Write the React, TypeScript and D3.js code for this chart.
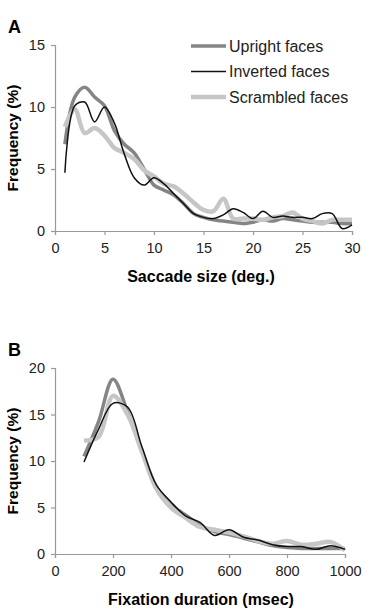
import { useEffect, useRef } from 'react';
import * as d3 from 'd3';

// panel A: saccade size distribution (deg.)
const saccadeSizes = d3.range(1, 31);
const saccadeUpright = [7.0, 10.8, 11.6, 10.8, 10.1, 8.1, 7.0, 6.3, 5.0, 3.7, 3.3, 2.9, 2.2, 1.4, 1.1, 0.9, 0.8, 0.7, 0.6, 0.7, 0.9, 0.8, 1.0, 0.9, 0.8, 0.7, 0.7, 0.7, 0.6, 0.6];
const saccadeInverted = [4.7, 10.1, 10.4, 8.8, 10.0, 8.7, 6.2, 4.3, 3.7, 4.3, 3.8, 3.0, 2.2, 1.4, 1.1, 1.0, 1.3, 1.8, 1.5, 1.0, 1.6, 1.1, 1.2, 1.1, 1.1, 1.0, 1.4, 1.4, 0.2, 0.5];
const saccadeScrambled = [8.4, 9.8, 7.9, 8.3, 7.7, 6.7, 6.3, 5.8, 4.9, 4.4, 3.8, 3.6, 3.0, 2.3, 1.7, 1.6, 2.6, 1.0, 1.0, 1.0, 0.9, 1.1, 1.2, 1.5, 1.0, 0.8, 0.6, 0.9, 0.9, 0.9];

// panel B: fixation duration distribution (msec)
const durations = d3.range(100, 1001, 50);
const durationUpright = [10.5, 14.2, 18.8, 15.3, 11.0, 7.2, 5.3, 4.2, 3.1, 2.4, 2.1, 1.7, 1.3, 0.9, 0.7, 0.6, 0.6, 0.6, 0.6];
const durationInverted = [9.9, 13.4, 16.2, 15.8, 11.5, 7.4, 5.6, 4.1, 3.4, 2.0, 2.6, 1.8, 1.5, 1.0, 0.8, 0.8, 0.5, 0.9, 0.5];
const durationScrambled = [12.2, 12.6, 17.0, 15.0, 11.0, 7.0, 5.0, 3.9, 2.9, 2.6, 2.3, 1.9, 1.4, 1.1, 1.4, 1.0, 1.1, 1.3, 0.4];

const legendLabels = ['Upright faces', 'Inverted faces', 'Scrambled faces'];
const saccadeXTicks = [0, 5, 10, 15, 20, 25, 30];
const saccadeYTicks = [0, 5, 10, 15];
const durationXTicks = [0, 200, 400, 600, 800, 1000];
const durationYTicks = [0, 5, 10, 15, 20];

const FONT = '"Liberation Sans", Arial, sans-serif';
const AXIS = '#999';

// drawing order: upright, scrambled, inverted on top
const STYLES = {
  upright: { stroke: '#858585', width: 3.5 },
  inverted: { stroke: '#111', width: 1.5 },
  scrambled: { stroke: '#c6c6c6', width: 4.5 },
};

type PanelProps = {
  letter: string;
  top: number;
  height: number;
  right: number;
  xs: number[];
  upright: number[];
  inverted: number[];
  scrambled: number[];
  xDomain: [number, number];
  yDomain: [number, number];
  xTicks: number[];
  yTicks: number[];
  xTitle: string;
  legend: boolean;
};

const Panel = (p: PanelProps) => {
  const axesRef = useRef<SVGGElement>(null);
  const left = 55;
  const xScale = d3.scaleLinear().domain(p.xDomain).range([left, p.right]);
  const yScale = d3.scaleLinear().domain(p.yDomain).range([p.top + p.height, p.top]);

  useEffect(() => {
    const g = d3.select(axesRef.current);
    g.selectAll('*').remove();
    const xAxis = g
      .append('g')
      .attr('transform', `translate(0,${p.top + p.height})`)
      .call(
        d3.axisBottom(xScale).tickValues(p.xTicks).tickFormat(d3.format('d')).tickSize(4).tickPadding(8)
      );
    const yAxis = g
      .append('g')
      .attr('transform', `translate(${left},0)`)
      .call(d3.axisLeft(yScale).tickValues(p.yTicks).tickFormat(d3.format('d')).tickSize(4).tickPadding(6));
    [xAxis, yAxis].forEach((a) => {
      a.attr('font-family', FONT).attr('font-size', 14.5);
      a.selectAll('path').attr('stroke', AXIS).attr('stroke-width', 1.2);
      a.selectAll('line').attr('stroke', AXIS).attr('stroke-width', 1.2);
      a.selectAll('text').attr('fill', '#222');
    });
  }, [p]);

  const line = (vals: number[]) =>
    d3
      .line<number>()
      .x((_, i) => xScale(p.xs[i]))
      .y((d) => yScale(d))
      .curve(d3.curveCatmullRom)(vals) || '';

  const midY = p.top + p.height / 2;

  return (
    <g>
      <text x={8} y={p.top - 12} fontFamily={FONT} fontWeight="bold" fontSize={18}>
        {p.letter}
      </text>
      <path d={line(p.upright)} fill="none" stroke={STYLES.upright.stroke} strokeWidth={STYLES.upright.width} />
      <path d={line(p.scrambled)} fill="none" stroke={STYLES.scrambled.stroke} strokeWidth={STYLES.scrambled.width} />
      <path d={line(p.inverted)} fill="none" stroke={STYLES.inverted.stroke} strokeWidth={STYLES.inverted.width} />
      <g ref={axesRef} />
      <text
        transform={`translate(18,${midY}) rotate(-90)`}
        textAnchor="middle"
        fontFamily={FONT}
        fontWeight="bold"
        fontSize={15.5}
      >
        Frequency (%)
      </text>
      <text x={201} y={p.top + p.height + 51} textAnchor="middle" fontFamily={FONT} fontWeight="bold" fontSize={16}>
        {p.xTitle}
      </text>
      {p.legend &&
        legendLabels.map((label, i) => {
          const s = [STYLES.upright, STYLES.inverted, STYLES.scrambled][i];
          const y = 46 + i * 25.5;
          return (
            <g key={label}>
              <line x1={191} x2={226} y1={y} y2={y} stroke={s.stroke} strokeWidth={s.width} />
              <text x={229} y={y + 5.5} fontFamily={FONT} fontSize={16} fill="#222">
                {label}
              </text>
            </g>
          );
        })}
    </g>
  );
};

export default function App() {
  return (
    <svg width={366} height={612} style={{ position: 'absolute', left: 0, top: 0, background: '#fff' }}>
      <Panel
        letter="A"
        top={45}
        height={186}
        right={352}
        xs={saccadeSizes}
        upright={saccadeUpright}
        inverted={saccadeInverted}
        scrambled={saccadeScrambled}
        xDomain={[0, 30]}
        yDomain={[0, 15]}
        xTicks={saccadeXTicks}
        yTicks={saccadeYTicks}
        xTitle="Saccade size (deg.)"
        legend={true}
      />
      <Panel
        letter="B"
        top={368}
        height={186}
        right={345}
        xs={durations}
        upright={durationUpright}
        inverted={durationInverted}
        scrambled={durationScrambled}
        xDomain={[0, 1000]}
        yDomain={[0, 20]}
        xTicks={durationXTicks}
        yTicks={durationYTicks}
        xTitle="Fixation duration (msec)"
        legend={false}
      />
    </svg>
  );
}
